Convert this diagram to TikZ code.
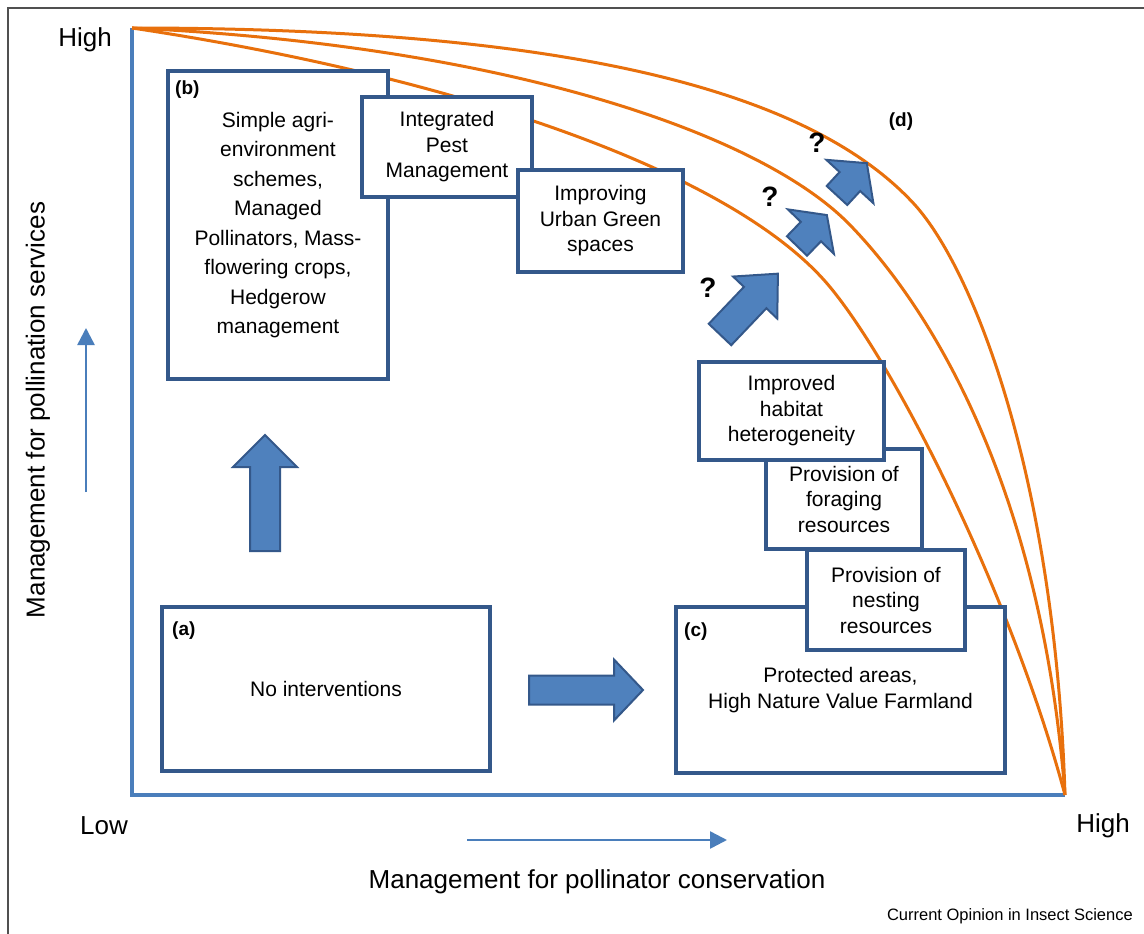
\documentclass[tikz,border=0pt]{standalone}
\usepackage{fontspec}
\setmainfont{Liberation Sans}
\usetikzlibrary{arrows.meta}
\definecolor{axisblue}{RGB}{74,126,187}
\definecolor{boxblue}{RGB}{52,88,138}
\definecolor{fillblue}{RGB}{79,129,189}
\definecolor{curveorange}{RGB}{232,112,12}
\definecolor{framegray}{RGB}{80,80,80}
\newcommand{\blockarrow}[7]{% x, y, angle, L, headlen, shaft half, head half
  \draw[barrow, shift={(#1,#2)}, rotate=#3]
    (0,-#6) -- ({#4-#5},-#6) -- ({#4-#5},-#7) -- (#4,0) -- ({#4-#5},#7) -- ({#4-#5},#6) -- (0,#6) -- cycle;}
\begin{document}
\begin{tikzpicture}[x=1pt,y=-1pt,
  box/.style={draw=boxblue, line width=4pt, fill=white, align=center, inner sep=0pt, font=\fontsize{21}{25.5}\selectfont},
  tag/.style={font=\bfseries\fontsize{19}{19}\selectfont, anchor=west, inner sep=0pt},
  curve/.style={draw=curveorange, line width=3pt},
  axis/.style={draw=axisblue, line width=3.5pt},
  axarrow/.style={draw=axisblue, line width=2.5pt, -{Triangle[length=17pt,width=17pt]}},
  barrow/.style={fill=fillblue, draw=boxblue, line width=2pt, line join=miter},
  qmark/.style={font=\bfseries\fontsize{28}{28}\selectfont, inner sep=0pt},
  lbl/.style={font=\fontsize{26}{26}\selectfont, inner sep=0pt},
]
\useasboundingbox (0,0) rectangle (1144,934);
\fill[white] (0,0) rectangle (1144,934);
% frame
\coordinate (fbl) at (8,934);
\coordinate (ftl) at (8,8);
\coordinate (ftr) at (1144,8);
\draw[framegray, line width=1.5pt] (fbl) -- (ftl) -- (ftr);
% axes
\coordinate (top) at (132,28);
\coordinate (origin) at (132,795);
\coordinate (right) at (1065,795);
\draw[axis] (top) -- (origin) -- (right);
% curves
\coordinate (o1) at (915,205);
\coordinate (m1) at (850,225);
\coordinate (i1) at (830,287);
\draw[curve] (top) .. controls (580,28) and (814,94) .. (o1)
                   .. controls (975,272) and (1055,480) .. (right);
\draw[curve] (top) .. controls (500,45) and (760,132) .. (m1)
                   .. controls (920,297) and (1040,470) .. (right);
\draw[curve] (top) .. controls (452,76) and (734,171) .. (i1)
                   .. controls (900,372) and (1013,601) .. (right);
% boxes
\node[box, minimum width=220pt, minimum height=308pt, font=\fontsize{21}{29.5}\selectfont] (b) at (278,225) {Simple agri-\\environment\\schemes,\\Managed\\Pollinators, Mass-\\flowering crops,\\Hedgerow\\management};
\node[box, minimum width=170pt, minimum height=100pt] (ipm) at (447,147) {Integrated\\Pest\\Management};
\node[box, minimum width=165pt, minimum height=102pt] (ug) at (600.5,221) {Improving\\Urban Green\\spaces};
\node[box, minimum width=328pt, minimum height=164pt] (a) at (326,689) {No interventions};
\node[box, minimum width=329pt, minimum height=166pt] (c) at (840.5,690) {Protected areas,\\High Nature Value Farmland};
\node[box, minimum width=158pt, minimum height=100pt] (nest) at (886,600) {Provision of\\nesting\\resources};
\node[box, minimum width=156pt, minimum height=100pt] (forage) at (844,499) {Provision of\\foraging\\resources};
\node[box, minimum width=185pt, minimum height=98pt] (habitat) at (791.5,411) {Improved\\habitat\\heterogeneity};
% tags
\node[tag] (tb) at (175,90) {(b)};
\node[tag] (ta) at (172,631) {(a)};
\node[tag] (tc) at (684,632) {(c)};
\node[tag, anchor=center] (td) at (901,122) {(d)};
% block arrows
\blockarrow{265}{551}{90}{116}{32}{15}{32}
\blockarrow{529}{690}{0}{114}{29}{14.5}{30.5}
\blockarrow{720}{334.5}{46.4}{84}{33}{15.5}{30.5}
\blockarrow{797}{246}{46}{43}{23}{14}{32}
\blockarrow{837}{195.5}{47.3}{44}{25}{14}{32}
% question marks
\node[qmark] (q1) at (708,288) {?};
\node[qmark] (q2) at (770,197) {?};
\node[qmark] (q3) at (817,143) {?};
% axis labels
\node[lbl] (yhigh) at (85,40) {High};
\node[lbl] (xlow) at (104,826) {Low};
\node[lbl] (xhigh) at (1103,826) {High};
\node[lbl] (xlab) at (597,882) {Management for pollinator conservation};
\node[lbl, rotate=90] (ylab) at (38,410) {Management for pollination services};
% small axis arrows
\coordinate (ya0) at (86,492);
\coordinate (ya1) at (86,328);
\coordinate (xa0) at (467,840);
\coordinate (xa1) at (727,840);
\draw[axarrow] (ya0) -- (ya1);
\draw[axarrow] (xa0) -- (xa1);
\node[font=\fontsize{16.5}{16.5}\selectfont, anchor=east, inner sep=0pt] (credit) at (1133,916) {Current Opinion in Insect Science};
\end{tikzpicture}
\end{document}
